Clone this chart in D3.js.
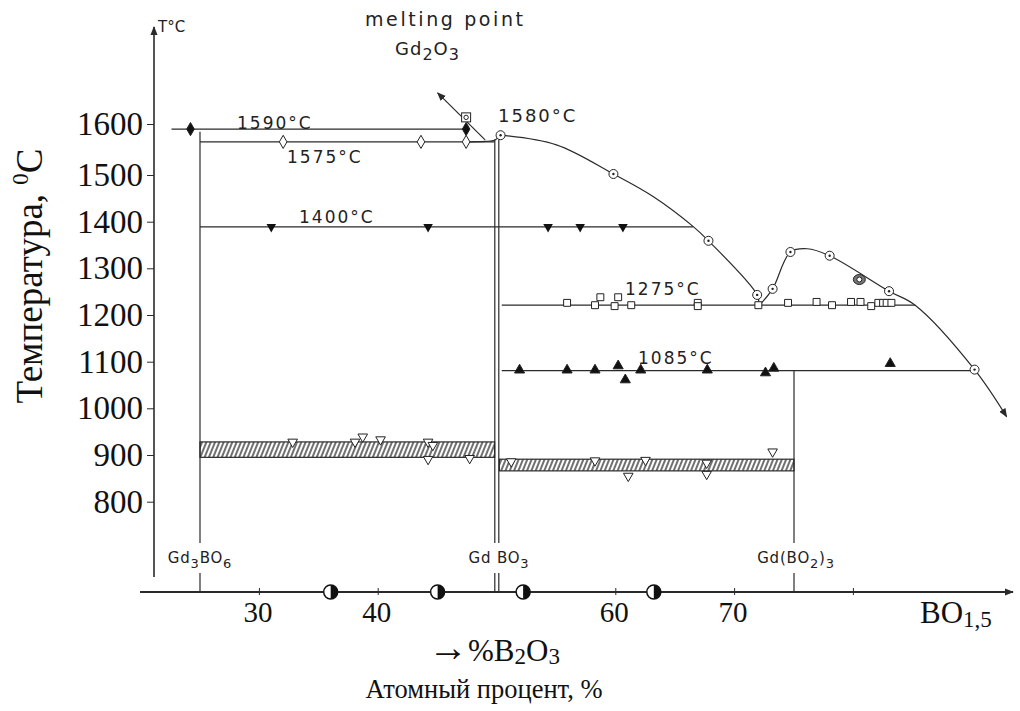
<!DOCTYPE html>
<html>
<head>
<meta charset="utf-8">
<script src="https://cdn.jsdelivr.net/npm/d3@7"></script>
<style>
  body { margin: 0; background: #fff; }
  .lbl { font-family: "DejaVu Sans", sans-serif; font-size: 17px; fill: #222; letter-spacing: 2px; }
  .serif { font-family: "Liberation Serif", "Times New Roman", serif; fill: #111; }
</style>
</head>
<body>
<svg id="chart"></svg>
<script>
// ---- data (x = BO1.5 at.%, T = °C) ----
const yTicks = [800, 900, 1000, 1100, 1200, 1300, 1400, 1500, 1600];
const xTicks = [30, 40, 60, 70];
const xTickMarks = [30, 40, 60, 70, 80];

// isotherms: label, drawn temperature, extent
const isoLabels = ['1590°C', '1575°C', '1400°C', '1275°C', '1085°C'];
const isoTemps  = [1590, 1565, 1389, 1221, 1081];
const isoStart  = [22.6, 25, 25, 50.4, 50.4];
const isoEnd    = [47.4, 49.8, 66.5, 85.2, 90.2];

// compounds
const compoundX   = [25, 50, 75];
const compoundTop = [1585, 1578, 1081];

// hatched bands (two-phase transition zones)
const bandX0 = [25, 50.2];
const bandX1 = [49.8, 75];
const bandLo = [895, 866];
const bandHi = [928, 891];

// liquidus curve
const liquidusLeft  = [[50.3, 1578], [55.0, 1559], [59.8, 1502], [63.2, 1453], [66.5, 1390], [67.8, 1359], [71.9, 1243], [72.05, 1220]];
const liquidusRight = [[72.05, 1220], [73.2, 1256], [74.7, 1335], [76.1, 1342], [78.0, 1327], [83.0, 1251], [85.2, 1221], [90.2, 1083], [92.9, 982]];
const meltArrow = [[49.0, 1569], [45.0, 1661]];
const meltHook  = [[47.4, 1565], [49.0, 1566], [49.8, 1568], [50.3, 1578]];

// experimental points
const filledDiamonds = [[24.2, 1590], [47.4, 1590]];
const openDiamonds   = [[32.0, 1565], [43.6, 1565], [47.4, 1565]];
const dotSquares     = [[47.4, 1613]];
const filledDown     = [[31.0, 1389], [44.2, 1389], [54.3, 1389], [57.0, 1389], [60.6, 1389]];
const openSquares    = [[55.9, 1226], [58.25, 1221], [58.7, 1238], [59.9, 1219], [60.2, 1238], [61.3, 1221],
                        [66.9, 1226], [66.9, 1219], [72.0, 1221], [74.5, 1226], [76.9, 1228], [78.2, 1221],
                        [79.8, 1228], [80.6, 1228], [81.5, 1219], [82.1, 1226], [82.5, 1226], [82.8, 1226], [83.2, 1226]];
const filledUp       = [[51.9, 1082], [55.9, 1082], [58.25, 1082], [60.2, 1091], [60.8, 1061], [62.1, 1082],
                        [67.7, 1082], [72.6, 1076], [73.3, 1086], [83.1, 1096]];
const openDown       = [[32.8, 928], [38.05, 928], [38.7, 939], [40.2, 933], [44.2, 928], [44.6, 921], [44.2, 891], [47.7, 893],
                        [51.2, 886], [58.25, 888], [61.05, 855], [62.5, 889], [67.65, 883], [67.65, 859], [73.2, 907]];
const dotCircles     = [[50.3, 1578], [59.8, 1502], [67.8, 1359], [71.9, 1243], [73.2, 1256], [74.7, 1335],
                        [78.0, 1327], [83.0, 1251], [90.2, 1083]];
const doubleCircles  = [[80.5, 1276]];
const halfCircles    = [36.0, 45.0, 52.2, 63.2];

// ---- layout ----
const W = 1020, H = 711;
const axisY = 592, axisX = 154;

const svg = d3.select('#chart').attr('width', W).attr('height', H);

const x = d3.scaleLinear().domain([25, 75]).range([200, 794]);
// the hand-drawn temperature axis is slightly uneven, so a piecewise scale follows its ticks
const y = d3.scaleLinear().domain(yTicks).range([501.7, 455, 408.3, 361.7, 315, 268.3, 221.7, 175, 124]);

const ink = '#2a2a2a';
const defs = svg.append('defs');
defs.append('marker')
    .attr('id', 'arrow')
    .attr('viewBox', '0 0 10 10')
    .attr('refX', 9).attr('refY', 5)
    .attr('markerWidth', 9).attr('markerHeight', 9)
    .attr('markerUnits', 'userSpaceOnUse')
    .attr('orient', 'auto')
  .append('path')
    .attr('d', 'M0,1 L10,5 L0,9 Z')
    .attr('fill', ink);

const hatch = defs.append('pattern')
    .attr('id', 'hatch')
    .attr('patternUnits', 'userSpaceOnUse')
    .attr('width', 4).attr('height', 10)
    .attr('patternTransform', 'rotate(22)');
hatch.append('line')
    .attr('x1', 1).attr('y1', 0).attr('x2', 1).attr('y2', 10)
    .attr('stroke', '#333').attr('stroke-width', 1.4);

// helper for chemical formulas with subscripts
function rich(sel, parts, subSize, shift) {
    let down = false;
    parts.forEach(p => {
        const t = sel.append('tspan').text(p[0]);
        if (p[1] && !down) { t.attr('dy', shift).style('font-size', subSize + 'px'); down = true; }
        else if (p[1]) { t.style('font-size', subSize + 'px'); }
        else if (down) { t.attr('dy', -shift); down = false; }
    });
}

// ---- axes ----
svg.append('line')
    .attr('x1', axisX).attr('y1', 577).attr('x2', axisX).attr('y2', 27)
    .attr('stroke', ink).attr('stroke-width', 1.6)
    .attr('marker-end', 'url(#arrow)');

const yAxis = d3.axisLeft(y).tickValues(yTicks).tickSize(7).tickPadding(4).tickFormat(d3.format('d'));
const yAxisG = svg.append('g').attr('transform', `translate(${axisX},0)`).call(yAxis);
yAxisG.select('.domain').remove();
yAxisG.selectAll('line').attr('stroke', ink);
yAxisG.selectAll('text')
    .attr('class', 'serif')
    .style('font-size', '33px')
    .attr('fill', '#111');

svg.append('line')
    .attr('x1', 140).attr('y1', axisY).attr('x2', 1013).attr('y2', axisY)
    .attr('stroke', ink).attr('stroke-width', 1.8)
    .attr('marker-end', 'url(#arrow)');

svg.append('g').selectAll('line')
    .data(xTickMarks)
    .join('line')
    .attr('x1', d => x(d)).attr('x2', d => x(d))
    .attr('y1', axisY - 4).attr('y2', axisY + 3)
    .attr('stroke', ink);

const xAxis = d3.axisBottom(x).tickValues(xTicks).tickSize(0).tickPadding(9);
const xAxisG = svg.append('g').attr('transform', `translate(-2,${axisY})`).call(xAxis);
xAxisG.select('.domain').remove();
xAxisG.selectAll('text')
    .attr('class', 'serif')
    .style('font-size', '29px')
    .attr('fill', '#111');

// half filled circles on the composition axis
const hc = svg.append('g').selectAll('g').data(halfCircles).join('g')
    .attr('transform', d => `translate(${x(d)},${axisY})`);
hc.append('circle').attr('r', 7).attr('fill', '#fff').attr('stroke', '#111').attr('stroke-width', 1.5);
hc.append('path').attr('d', 'M0,-7 A7,7 0 0,1 0,7 Z').attr('fill', '#111');

// axis titles
svg.append('text').attr('class', 'lbl').attr('x', 158).attr('y', 32)
    .style('font-size', '15px').style('letter-spacing', '0px').text('T°C');

const yTitle = svg.append('text')
    .attr('class', 'serif')
    .attr('transform', 'translate(42,276) rotate(-90)')
    .attr('text-anchor', 'middle')
    .style('font-size', '37px')
    .attr('fill', '#9a5418');
yTitle.append('tspan').text('Температура, ');
yTitle.append('tspan').text('0').attr('dy', -14).style('font-size', '23px');
yTitle.append('tspan').text('C').attr('dy', 14);

const bo = svg.append('text').attr('class', 'serif').attr('x', 920).attr('y', 623).style('font-size', '31px');
rich(bo, [['BO'], ['1,5', true]], 23, 4);

const b2o3 = svg.append('text').attr('class', 'serif').attr('x', 428).attr('y', 661).style('font-size', '31px');
b2o3.append('tspan').text('→').style('font-size', '40px');
rich(b2o3, [['%B'], ['2', true], ['O'], ['3', true]], 23, 3);

svg.append('text').attr('class', 'serif')
    .attr('x', 484).attr('y', 698)
    .attr('text-anchor', 'middle')
    .style('font-size', '26.5px')
    .text('Атомный процент, %');

// ---- phase diagram ----
const plot = svg.append('g');

// hatched bands
plot.selectAll('rect.band')
    .data(bandX0.map((d, i) => ({x0: d, x1: bandX1[i], lo: bandLo[i], hi: bandHi[i]})))
    .join('rect')
    .attr('class', 'band')
    .attr('x', d => x(d.x0)).attr('width', d => x(d.x1) - x(d.x0))
    .attr('y', d => y(d.hi)).attr('height', d => y(d.lo) - y(d.hi))
    .attr('fill', 'url(#hatch)')
    .attr('stroke', ink).attr('stroke-width', 1.2);

// compound verticals, broken where the formula is written
const compoundNames = [
    [['Gd'], ['3', true], ['BO'], ['6', true]],
    [['Gd BO'], ['3', true]],
    [['Gd(BO'], ['2', true], [')'], ['3', true]]
];
const breakTop = 543, breakBottom = 573;
compoundX.forEach((c, i) => {
    const offs = i === 1 ? [-2.2, 1.8] : [0];
    offs.forEach(o => {
        plot.append('line')
            .attr('x1', x(c) + o).attr('x2', x(c) + o)
            .attr('y1', y(compoundTop[i]) + (i === 1 ? 4 : 0)).attr('y2', breakTop)
            .attr('stroke', ink).attr('stroke-width', 1.2);
        plot.append('line')
            .attr('x1', x(c) + o).attr('x2', x(c) + o)
            .attr('y1', breakBottom).attr('y2', axisY)
            .attr('stroke', ink).attr('stroke-width', 1.2);
    });
    const t = plot.append('text').attr('class', 'lbl')
        .attr('x', x(c) + (i === 0 ? 0 : 2)).attr('y', 563)
        .attr('text-anchor', 'middle')
        .style('font-size', '15px').style('letter-spacing', '0.8px');
    rich(t, compoundNames[i], 13, 5);
});

// isotherms
plot.selectAll('line.iso')
    .data(isoTemps)
    .join('line')
    .attr('class', 'iso')
    .attr('x1', (d, i) => x(isoStart[i])).attr('x2', (d, i) => x(isoEnd[i]))
    .attr('y1', d => y(d)).attr('y2', d => y(d))
    .attr('stroke', ink).attr('stroke-width', 1.2);

const isoLabelPos = [[237, 129], [287, 163], [299, 223], [625, 295], [638, 364]];
plot.selectAll('text.iso')
    .data(isoLabels)
    .join('text')
    .attr('class', 'lbl iso')
    .attr('x', (d, i) => isoLabelPos[i][0]).attr('y', (d, i) => isoLabelPos[i][1])
    .text(d => d);

plot.append('text').attr('class', 'lbl').attr('x', 498).attr('y', 122).style('font-size', '18px').text('1580°C');

// liquidus
const curve = d3.line().x(d => x(d[0])).y(d => y(d[1])).curve(d3.curveCatmullRom.alpha(0.5));
plot.append('path').datum(liquidusLeft).attr('d', curve)
    .attr('fill', 'none').attr('stroke', ink).attr('stroke-width', 1.2);
plot.append('path').datum(liquidusRight).attr('d', curve)
    .attr('fill', 'none').attr('stroke', ink).attr('stroke-width', 1.2)
    .attr('marker-end', 'url(#arrow)');
plot.append('path').datum(meltHook).attr('d', curve)
    .attr('fill', 'none').attr('stroke', ink).attr('stroke-width', 1.1);
plot.append('path').datum(meltArrow).attr('d', d3.line().x(d => x(d[0])).y(d => y(d[1])))
    .attr('fill', 'none').attr('stroke', ink).attr('stroke-width', 1.2)
    .attr('marker-end', 'url(#arrow)');

// melting point caption
plot.append('text').attr('class', 'lbl').attr('x', 365).attr('y', 26)
    .style('font-size', '19px').style('letter-spacing', '2.6px').text('melting point');
const gd = plot.append('text').attr('class', 'lbl').attr('x', 395).attr('y', 55)
    .style('font-size', '18px').style('letter-spacing', '1px');
rich(gd, [['Gd'], ['2', true], ['O'], ['3', true]], 16, 5);

// ---- markers ----
const sym = (type, size) => d3.symbol().type(type).size(size)();
function points(data, type, size, fill, cls) {
    plot.selectAll('path.' + cls)
        .data(data)
        .join('path')
        .attr('class', cls)
        .attr('transform', d => `translate(${x(d[0])},${y(d[1])})`)
        .attr('d', sym(type, size))
        .attr('fill', fill)
        .attr('stroke', '#222')
        .attr('stroke-width', 1);
}
points(filledDiamonds, d3.symbolDiamond, 50, '#111', 'fd');
points(openDiamonds, d3.symbolDiamond, 50, '#fff', 'od');
points(openSquares, d3.symbolSquare, 48, '#fff', 'os');

const triDown = d3.symbol().type(d3.symbolTriangle).size(40)();
plot.selectAll('path.fdn').data(filledDown).join('path').attr('class', 'fdn')
    .attr('transform', d => `translate(${x(d[0])},${y(d[1])}) rotate(180)`)
    .attr('d', triDown).attr('fill', '#111');
plot.selectAll('path.odn').data(openDown).join('path').attr('class', 'odn')
    .attr('transform', d => `translate(${x(d[0])},${y(d[1])}) rotate(180)`)
    .attr('d', triDown).attr('fill', '#fff').attr('stroke', '#222');
points(filledUp, d3.symbolTriangle, 44, '#111', 'fup');

// ⊙ circles
const dc = plot.selectAll('g.dc').data(dotCircles).join('g').attr('class', 'dc')
    .attr('transform', d => `translate(${x(d[0])},${y(d[1])})`);
dc.append('circle').attr('r', 4.5).attr('fill', '#fff').attr('stroke', '#222');
dc.append('circle').attr('r', 1.2).attr('fill', '#222');

const dbl = plot.selectAll('g.dbl').data(doubleCircles).join('g').attr('class', 'dbl')
    .attr('transform', d => `translate(${x(d[0])},${y(d[1])})`);
dbl.append('ellipse').attr('rx', 6).attr('ry', 5).attr('fill', '#777').attr('stroke', '#222');
dbl.append('circle').attr('r', 2.5).attr('fill', '#fff').attr('stroke', '#222');

// ⊡ Gd2O3 melting point
const ds = plot.selectAll('g.ds').data(dotSquares).join('g').attr('class', 'ds')
    .attr('transform', d => `translate(${x(d[0])},${y(d[1])})`);
ds.append('rect').attr('x', -4.5).attr('y', -4.5).attr('width', 9).attr('height', 9)
    .attr('fill', '#fff').attr('stroke', '#222');
ds.append('circle').attr('r', 2.2).attr('fill', 'none').attr('stroke', '#222');
</script>
</body>
</html>
